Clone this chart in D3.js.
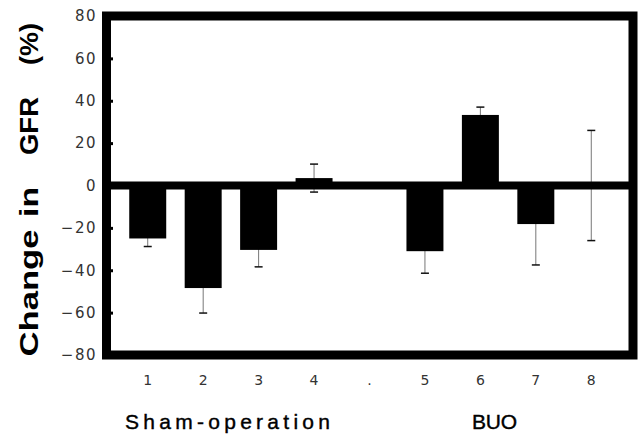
<!DOCTYPE html>
<html>
<head>
<meta charset="utf-8">
<script src="https://cdnjs.cloudflare.com/ajax/libs/d3/7.8.5/d3.min.js"></script>
<style>
  html, body { margin: 0; padding: 0; background: #fff; }
  svg { display: block; }
</style>
</head>
<body>
<div id="chart"></div>
<script>
"use strict";

// Chart data
const categories = ["1", "2", "3", "4", ".", "5", "6", "7", "8"];
const barCategories = ["1", "2", "3", "4", "5", "6", "7", "8"];
const changeValues = [-25, -48.4, -30.4, 3.5, -31, 33.3, -18.2, 0];
const errorValues = [3.8, 11.8, 8, 6.6, 10.4, 3.7, 19.3, 26];
const yTicks = [-80, -60, -40, -20, 0, 20, 40, 60, 80];
const groupLabels = ["Sham-operation", "BUO"];

const width = 640;
const height = 436;

const svg = d3.select("#chart")
  .append("svg")
  .attr("width", width)
  .attr("height", height);

// Scales
const x = d3.scaleBand()
  .domain(categories)
  .range([120, 619])
  .paddingInner(0.333)
  .paddingOuter(0.1667);

const y = d3.scaleLinear()
  .domain([-80, 80])
  .range([355, 16]);

// Y axis: labels outside, small ticks inside the frame
const yAxis = d3.axisLeft(y)
  .tickValues(yTicks)
  .tickSize(-11)
  .tickPadding(5)
  .tickFormat(d3.format("d"));

const yAxisG = svg.append("g")
  .attr("transform", "translate(102,0)")
  .call(yAxis);
yAxisG.select(".domain").remove();
yAxisG.selectAll(".tick line").attr("stroke", "#000").attr("stroke-width", 3);
yAxisG.selectAll(".tick text")
  .attr("fill", "#333")
  .style("font-family", "DejaVu Sans, sans-serif")
  .style("font-size", "15px")
  .style("letter-spacing", "1.5px");

// X axis labels
const xAxisG = svg.append("g")
  .attr("transform", "translate(0,355)")
  .call(d3.axisBottom(x).tickSize(0).tickPadding(20));
xAxisG.select(".domain").remove();
xAxisG.selectAll(".tick text")
  .attr("fill", "#333")
  .style("font-family", "DejaVu Sans, sans-serif")
  .style("font-size", "14px");

// Error bars (drawn under the bars)
const cap = 4;
const errG = svg.append("g");
barCategories.forEach((c, i) => {
  const cx = x(c) + x.bandwidth() / 2;
  const top = y(changeValues[i] + errorValues[i]);
  const bot = y(changeValues[i] - errorValues[i]);
  errG.append("line")
    .attr("x1", cx).attr("x2", cx)
    .attr("y1", top).attr("y2", bot)
    .attr("stroke", "#777").attr("stroke-width", 1);
  [top, bot].forEach(v => {
    errG.append("line")
      .attr("x1", cx - cap).attr("x2", cx + cap)
      .attr("y1", v).attr("y2", v)
      .attr("stroke", "#111").attr("stroke-width", 1.5);
  });
});

// Bars
svg.append("g")
  .selectAll("rect")
  .data(barCategories)
  .join("rect")
  .attr("x", d => x(d))
  .attr("width", x.bandwidth())
  .attr("y", (d, i) => y(Math.max(0, changeValues[i])))
  .attr("height", (d, i) => Math.abs(y(changeValues[i]) - y(0)))
  .attr("fill", "#000");

// Zero line
svg.append("line")
  .attr("x1", 106).attr("x2", 633)
  .attr("y1", y(0)).attr("y2", y(0))
  .attr("stroke", "#000").attr("stroke-width", 8);

// Frame
svg.append("rect")
  .attr("x", 106.5).attr("y", y(80))
  .attr("width", 526.5).attr("height", y(-80) - y(80))
  .attr("fill", "none")
  .attr("stroke", "#000")
  .attr("stroke-width", 9);

// Y axis title, word by word
const titleWords = [
  { t: "(%)", c: 44, len: 42 },
  { t: "GFR", c: 126, len: 58 },
  { t: "in", c: 202, len: 30 },
  { t: "Change", c: 293, len: 127 }
];
titleWords.forEach(w => {
  svg.append("text")
    .attr("transform", `translate(38,${w.c}) rotate(-90)`)
    .attr("text-anchor", "middle")
    .attr("textLength", w.len)
    .attr("lengthAdjust", "spacingAndGlyphs")
    .style("font-family", "Liberation Sans, Arial, sans-serif")
    .style("font-weight", "bold")
    .style("font-size", "25px")
    .attr("fill", "#000")
    .text(w.t);
});

// Group labels
const groupX = [227.5, 494.5];
const groupLen = [205, 45];
groupLabels.forEach((g, i) => {
  svg.append("text")
    .attr("x", groupX[i]).attr("y", 429)
    .attr("text-anchor", "middle")
    .attr("textLength", groupLen[i])
    .attr("lengthAdjust", "spacing")
    .style("font-family", "Liberation Sans, Arial, sans-serif")
    .style("font-size", "21px")
    .attr("fill", "#000")
    .attr("stroke", "#000")
    .attr("stroke-width", 0.4)
    .text(g);
});
</script>
</body>
</html>
